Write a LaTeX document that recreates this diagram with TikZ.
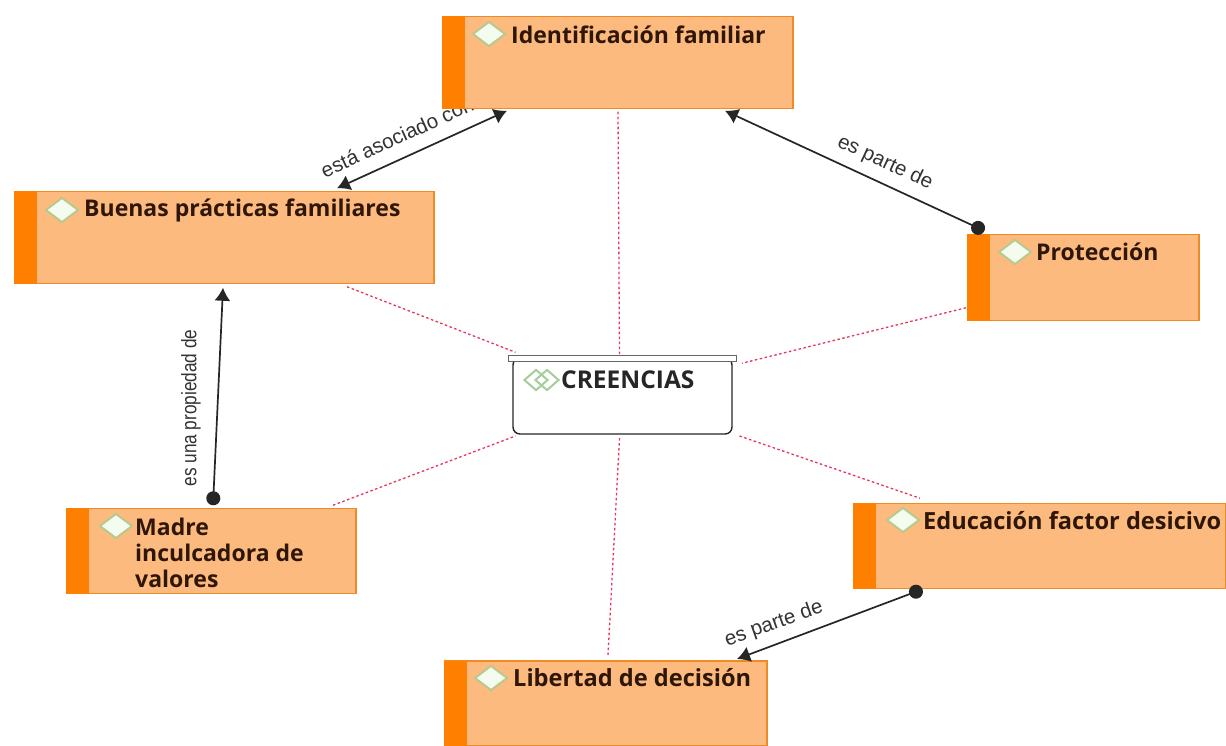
\documentclass[tikz,border=0pt]{standalone}
\usepackage{fontspec}
\setmainfont{Open Sans}
\newfontfamily\linkfont{Liberation Sans}
\usetikzlibrary{shapes.geometric,arrows.meta}
\definecolor{boxfill}{HTML}{FDBA7E}
\definecolor{boxedge}{HTML}{F08A24}
\definecolor{stripfill}{HTML}{FF7F00}
\definecolor{iconedge}{HTML}{B9C98E}
\definecolor{iconfill}{HTML}{F4FBEF}
\definecolor{icongreen}{HTML}{A5CE9A}
\definecolor{linkred}{HTML}{E8335A}
\definecolor{titletext}{HTML}{2E1608}
\tikzset{
  x=1pt,y=-1pt,
  procbox/.style={draw=boxedge,fill=boxfill,line width=1.1pt,rectangle,inner sep=0pt,outer sep=0pt},
  stripbox/.style={fill=stripfill,rectangle,inner sep=0pt,outer sep=0pt,minimum width=23pt},
  icondia/.style={diamond,draw=iconedge,fill=iconfill,line width=2pt,inner sep=0pt,minimum width=33pt,minimum height=25pt,aspect=1.35},
  iconsmall/.style={diamond,draw=icongreen,line width=2pt,inner sep=0pt,minimum width=24pt,minimum height=21pt,aspect=1.15},
  titletxt/.style={anchor=west,inner sep=0pt,text=titletext,font=\fontsize{23}{26}\selectfont\bfseries},
  titlewide/.style={titletxt,font=\fontsize{23.6}{26}\selectfont\bfseries},
  linktxt/.style={inner sep=0pt,text=black!80,font=\linkfont\fontsize{20.5}{22}\selectfont},
  relation/.style={draw=black!85,line width=1.7pt},
  trace/.style={draw=linkred,line width=1.3pt,dash pattern=on 2.5pt off 2.5pt},
  bothtip/.style={{Latex[length=13pt,width=16pt]}-{Latex[length=13pt,width=16pt]}},
  dottip/.style={{Circle[length=14pt,width=14pt]}-{Latex[length=13pt,width=16pt]}},
}
\begin{document}
\begin{tikzpicture}
\useasboundingbox[fill=white] (0,0) rectangle (1226,746);
% label partly hidden behind the box
\node[linktxt,rotate=24.5] (lblasoc) at (397,137) {está asociado con};
% boxes
\node[procbox,minimum width=350pt,minimum height=92.5pt] (ident) at (618,62.5) {};
\node[stripbox,minimum height=93pt] (idents) at (453.5,62.5) {};
\node[icondia] (identi) at (489,34) {};
\node[titletxt] (identt) at (511,35) {Identificación familiar};

\node[procbox,minimum width=419pt,minimum height=92.5pt] (buenas) at (224.5,237.5) {};
\node[stripbox,minimum height=93pt] (buenass) at (25.5,237.5) {};
\node[icondia] (buenasi) at (62,210) {};
\node[titletxt] (buenast) at (84,210) {Buenas prácticas familiares};

\node[procbox,minimum width=231pt,minimum height=86.5pt] (prot) at (1083.5,277.5) {};
\node[stripbox,minimum height=87pt] (prots) at (978.5,277.5) {};
\node[icondia] (proti) at (1015,252) {};
\node[titletxt] (prott) at (1036,252) {Protección};

\node[procbox,minimum width=289pt,minimum height=85.5pt] (madre) at (211.5,551) {};
\node[stripbox,minimum height=86pt] (madres) at (77.5,551) {};
\node[icondia] (madrei) at (116,526) {};
\node[titletxt,align=left] (madret) at (135,553) {Madre\\inculcadora de\\valores};

\node[procbox,minimum width=372pt,minimum height=85.5pt] (educ) at (1040,546) {};
\node[stripbox,minimum height=86pt] (educs) at (864.5,546) {};
\node[icondia] (educi) at (903,520) {};
\node[titlewide] (euct) at (923,521) {Educación factor desicivo};

\node[procbox,minimum width=322pt,minimum height=85pt] (liber) at (606,703.5) {};
\node[stripbox,minimum height=85pt] (libers) at (455.5,703.5) {};
\node[icondia] (liberi) at (491,678) {};
\node[titlewide] (libert) at (513,678) {Libertad de decisión};

% central
\node[draw=black!85,fill=white,line width=1.4pt,rounded corners=7pt,rectangle,inner sep=0pt,outer sep=0pt,minimum width=219pt,minimum height=76pt] (cree) at (622.5,396) {};
\node[draw=black!60,fill=white,line width=1.2pt,rectangle,inner sep=0pt,outer sep=0pt,minimum width=228pt,minimum height=6.5pt] (creebar) at (622.5,358.5) {};
\node[iconsmall] (creei1) at (536,380) {};
\node[iconsmall] (creei2) at (547,380) {};
\node[titletxt,text=black!85,font=\fontsize{24.5}{26}\selectfont\bfseries] (creet) at (561,380) {CREENCIAS};

% relations
\draw[relation,bothtip] ([xshift=112.5pt,yshift=3pt]buenas.north) -- ([xshift=-111pt,yshift=-2pt]ident.south);
\draw[relation,dottip] ([xshift=-99.1pt,yshift=3.4pt]prot.north) -- ([xshift=107pt,yshift=-2pt]ident.south);
\draw[relation,dottip] ([xshift=1.5pt,yshift=3pt]madre.north) -- ([xshift=-1.5pt,yshift=-4pt]buenas.south);
\draw[relation,dottip] ([xshift=-117.5pt,yshift=-0.5pt]educ.south) -- ([xshift=131pt,yshift=2pt]liber.north);

% traces
\draw[trace] ([xshift=122.5pt,yshift=-3pt]buenas.south) -- ([xshift=-107pt,yshift=3pt]creebar.north);
\draw[trace] ([yshift=-3pt]ident.south) -- ([xshift=-3pt,yshift=1pt]creebar.north);
\draw[trace] ([xshift=-117.5pt,yshift=13pt]prot.south) -- ([xshift=119.5pt,yshift=-8pt]creebar.north);
\draw[trace] ([xshift=121.5pt,yshift=3pt]madre.north) -- ([xshift=-107pt,yshift=-2pt]cree.south);
\draw[trace] ([xshift=-3pt,yshift=-4pt]cree.south) -- ([xshift=2pt,yshift=6pt]liber.north);
\draw[trace] ([xshift=117pt,yshift=-2pt]cree.south) -- ([xshift=-120pt,yshift=5pt]educ.north);

% labels
\node[linktxt,rotate=-25] (lblprot) at (885,163) {es parte de};
\node[linktxt,rotate=90,xscale=0.82,font=\linkfont\fontsize{21}{22}\selectfont] (lblmadre) at (191,408) {es una propiedad de};
\node[linktxt,rotate=19.5] (lbledu) at (774,624) {es parte de};
\end{tikzpicture}
\end{document}
